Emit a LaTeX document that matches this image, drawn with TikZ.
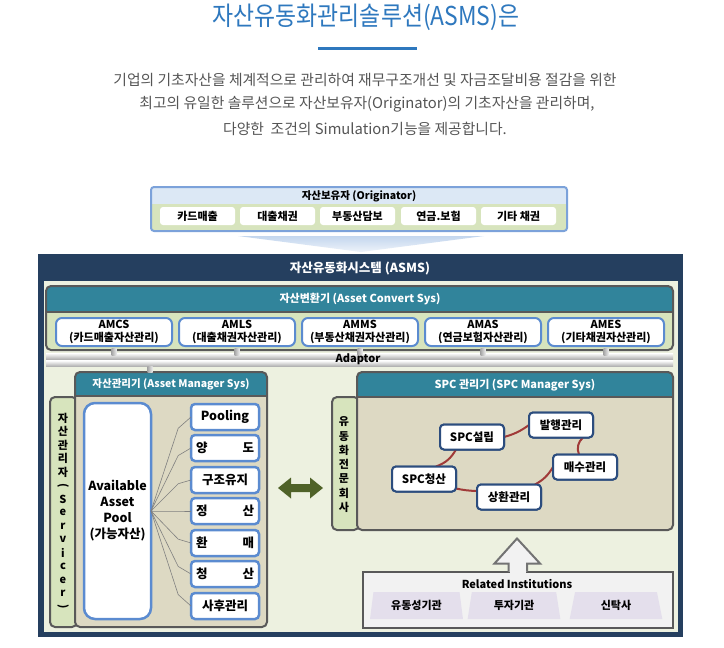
\documentclass[tikz,border=0pt]{standalone}
\usepackage{fontspec}
\setmainfont{Noto Sans CJK KR}
\newfontfamily\titlefont[FakeStretch=0.88]{Noto Sans CJK KR}
\usetikzlibrary{shapes.geometric,calc}
\definecolor{navy}{HTML}{253F5F}
\definecolor{innerbg}{HTML}{EDF1E0}
\definecolor{tealh}{HTML}{31849B}
\definecolor{tanbg}{HTML}{DDD9C3}
\definecolor{lgreen}{HTML}{D7E4BD}
\definecolor{bblue}{HTML}{5B8BD0}
\definecolor{dgray}{HTML}{595959}
\definecolor{titleblue}{HTML}{2E78BE}
\definecolor{spcblue}{HTML}{2C4D7E}
\definecolor{redline}{HTML}{A03A38}
\definecolor{arrowgreen}{HTML}{4F6228}
\definecolor{lav}{HTML}{E4DFEC}
\definecolor{lblue}{HTML}{DCE8F5}
\definecolor{paragray}{HTML}{555555}
\definecolor{litegray}{HTML}{F2F2F2}
\definecolor{funtop}{HTML}{C3D6EE}
\definecolor{funbot}{HTML}{EEF3FA}
\tikzset{
  every node/.style={inner sep=0pt,outer sep=0pt},
  origbox/.style={fill=white,rounded corners=3pt,minimum width=75pt,minimum height=18pt,font=\bfseries\fontsize{11}{13}\selectfont},
  convbox/.style={draw=bblue,line width=2pt,fill=white,rounded corners=6pt,minimum width=116pt,minimum height=28pt,align=center,font=\bfseries\fontsize{11}{12.5}\selectfont},
  listbox/.style={draw=bblue,line width=2.5pt,fill=white,rounded corners=4pt,minimum width=68pt,minimum height=26pt,font=\bfseries\fontsize{12.5}{14}\selectfont},
  poolbox/.style={draw=bblue,line width=2.5pt,fill=white,rounded corners=11pt,minimum width=67pt,minimum height=216pt,align=center,font=\bfseries\fontsize{12.5}{16}\selectfont},
  spcnode/.style={draw=spcblue,line width=2pt,fill=white,rounded corners=4pt,minimum width=64pt,minimum height=25pt,font=\bfseries\fontsize{11.5}{13}\selectfont},
  spcline/.style={draw=redline,line width=2pt},
  fanline/.style={draw=gray,line width=0.6pt},
  hdrtext/.style={text=white,font=\bfseries\fontsize{11}{13}\selectfont},
  vchar/.style={font=\bfseries\fontsize{11}{13}\selectfont},
  trapbox/.style={trapezium,trapezium stretches=true,trapezium left angle=79,trapezium right angle=79,fill=lav,minimum width=93pt,minimum height=27pt,font=\bfseries\fontsize{11}{13}\selectfont},
  paratext/.style={text=paragray,font=\fontsize{14.8}{17}\selectfont},
  panelborder/.style={draw=dgray,line width=2pt,rounded corners=5pt},
  stubfill/.style={left color=gray!70,right color=gray!15}
}
\begin{document}
\begin{tikzpicture}[x=1pt,y=-1pt]
\useasboundingbox (0,0) rectangle (724,648);
\fill[white] (0,0) rectangle (724,648);

% ---- title and intro
\node[text=titleblue,font=\titlefont\fontsize{26}{28}\selectfont] (title) at (366,17) {자산유동화관리솔루션(ASMS)은};
\draw[titleblue,line width=3pt] (318,48) -- (417,48);
\node[paratext] (p1) at (365,80) {기업의 기초자산을 체계적으로 관리하여 재무구조개선 및 자금조달비용 절감을 위한};
\node[paratext] (p2) at (367,104) {최고의 유일한 솔루션으로 자산보유자(Originator)의 기초자산을 관리하며,};
\node[paratext] (p3) at (365,129) {다양한\ \ 조건의 Simulation기능을 제공합니다.};

% ---- Originator
\fill[lgreen,rounded corners=3pt] (151,187) rectangle (567,231);
\fill[lblue] (152,188) rectangle (566,204);
\draw[bblue!80,line width=2pt,rounded corners=3pt] (151,187) rectangle (567,231);
\node[font=\bfseries\fontsize{10.5}{12}\selectfont] (origt) at (359,196) {자산보유자 (Originator)};
\node[origbox] (o1) at (197.5,216) {카드매출};
\node[origbox] (o2) at (277.5,216) {대출채권};
\node[origbox] (o3) at (357.5,216) {부동산담보};
\node[origbox] (o4) at (438.5,216) {연금.보험};
\node[origbox] (o5) at (518.5,216) {기타 채권};
\shade[top color=funtop,bottom color=funbot] (238,236) -- (484,236) -- (361,252) -- cycle;

% ---- ASMS frame
\fill[navy] (38,254) rectangle (683,637);
\fill[innerbg] (44,281) rectangle (678,632);
\node[hdrtext,font=\bfseries\fontsize{12.5}{14}\selectfont] (asmst) at (360,268) {자산유동화시스템 (ASMS)};

% ---- Asset Convert Sys
\begin{scope}
\clip[rounded corners=5pt] (46,286) rectangle (673,350);
\fill[lgreen] (46,286) rectangle (673,350);
\fill[tealh] (46,286) rectangle (673,312);
\end{scope}
\draw[panelborder] (46,286) rectangle (673,350);
\draw[dgray,line width=1.5pt] (46,312) -- (673,312);
\node[hdrtext] (convt) at (360,299) {자산변환기 (Asset Convert Sys)};
\node[convbox] (c1) at (114,332) {AMCS\\(카드매출자산관리)};
\node[convbox] (c2) at (237,332) {AMLS\\(대출채권자산관리)};
\node[convbox] (c3) at (360,332) {AMMS\\(부동산채권자산관리)};
\node[convbox] (c4) at (483,332) {AMAS\\(연금보험자산관리)};
\node[convbox] (c5) at (606,332) {AMES\\(기타채권자산관리)};

% ---- Adaptor
\shade[top color=white,bottom color=gray!65] (46,353) rectangle (673,359.5);
\shade[top color=white,bottom color=gray!65] (46,360.5) rectangle (673,366.5);
\foreach \n in {c1,c2,c3,c4,c5}{
  \shade[stubfill] ($(\n.south)+(-2.5,2)$) rectangle ($(\n.south)+(2.5,9)$);
}
\node[font=\bfseries\fontsize{11}{13}\selectfont] (adapt) at (358,359) {Adaptor};

% ---- Servicer + Asset Manager
\draw[panelborder,fill=lgreen] (50,397) rectangle (77,627);
\begin{scope}
\clip[rounded corners=5pt] (75,372) rectangle (267,627);
\fill[tanbg] (75,372) rectangle (267,627);
\fill[tealh] (75,372) rectangle (267,396);
\end{scope}
\draw[panelborder] (75,372) rectangle (267,627);
\draw[dgray,line width=1.5pt] (75,396) -- (267,396);
\node[hdrtext,font=\bfseries\fontsize{10.5}{12}\selectfont] (amt) at (171,384) {자산관리기 (Asset Manager Sys)};
\coordinate (amtop) at (150,372);
\shade[stubfill] ($(amtop)+(-2.5,-6)$) rectangle ($(amtop)+(2.5,0)$);

\foreach \c [count=\i from 0] in {자,산,관,리,자}{
  \node[vchar] (sv\i) at (63,418+13.5*\i) {\c};
}
\node[vchar,rotate=-90] (svl) at (63,486) {(};
\foreach \c [count=\i from 0] in {S,e,r,v,i,c,e,r}{
  \node[vchar] (sl\i) at (63,499+13.5*\i) {\c};
}
\node[vchar,rotate=-90] (svr) at (63,607) {)};

\node[poolbox] (pool) at (117.5,511) {Available\\Asset\\Pool\\(가능자산)};
\foreach \t/\yy [count=\i] in {Pooling/417,{\makebox[58pt]{양\hfill 도}}/448,구조유지/480,{\makebox[58pt]{정\hfill 산}}/511,{\makebox[58pt]{환\hfill 매}}/543,{\makebox[58pt]{청\hfill 산}}/574,사후관리/606}{
  \node[listbox] (l\i) at (225,\yy) {\t};
  \draw[fanline] (pool.east) -- ($(l\i.west)!0.12!(pool.east)+(-8,0)$) -- (l\i.west);
}

% ---- double arrow
\coordinate (dl) at (278,488);
\coordinate (dr) at (323,488);
\fill[arrowgreen] (dl) -- ($(dl)+(13,-10.5)$) -- ($(dl)+(13,-4)$) -- ($(dr)+(-13,-4)$) -- ($(dr)+(-13,-10.5)$) -- (dr)
  -- ($(dr)+(-13,10.5)$) -- ($(dr)+(-13,4)$) -- ($(dl)+(13,4)$) -- ($(dl)+(13,10.5)$) -- cycle;

% ---- SPC Manager
\draw[panelborder,fill=lgreen] (332,397) rectangle (359,530);
\begin{scope}
\clip[rounded corners=5pt] (357,372) rectangle (673,530);
\fill[tanbg] (357,372) rectangle (673,530);
\fill[tealh] (357,372) rectangle (673,397);
\end{scope}
\draw[panelborder] (357,372) rectangle (673,530);
\draw[dgray,line width=1.5pt] (357,397) -- (673,397);
\node[hdrtext] (spct) at (515,385) {SPC 관리기 (SPC Manager Sys)};
\foreach \c [count=\i from 0] in {유,동,화,전,문,회,사}{
  \node[vchar] (sp\i) at (344,422+14.2*\i) {\c};
}

\coordinate (p1) at (472,437);
\coordinate (p2) at (561,425);
\coordinate (p3) at (585,467);
\coordinate (p4) at (509,497);
\coordinate (p5) at (424,479);
\path (p1) node[spcnode] (n1) {SPC설립} (p2) node[spcnode] (n2) {발행관리}
  (p3) node[spcnode] (n3) {매수관리} (p4) node[spcnode] (n4) {상환관리} (p5) node[spcnode] (n5) {SPC청산};
\draw[spcline] (n1.east) to[bend right=10] (n2.west);
\draw[spcline] ($(n2.south)+(22,0)$) to[bend right=35] ($(n3.north)+(-6,0)$);
\draw[spcline] (n3.west) to[bend left=15] ($(n4.north east)+(-6,0)$);
\draw[spcline] ($(n4.west)+(0,-6)$) to[bend left=5] ($(n5.south east)+(0,-3)$);
\draw[spcline] ($(n5.north)+(12,0)$) to[bend right=20] ($(n1.south west)+(16,0)$);
% redraw boxes above the lines
\node[spcnode] at (p1) {SPC설립};
\node[spcnode] at (p2) {발행관리};
\node[spcnode] at (p3) {매수관리};
\node[spcnode] at (p4) {상환관리};
\node[spcnode] at (p5) {SPC청산};

% ---- Related institutions
\node[draw=dgray,fill=litegray,line width=2pt,minimum width=310pt,minimum height=56pt] (rel) at (518,599.5) {};
\node[font=\bfseries\fontsize{11}{13}\selectfont] (relt) at (517,584) {Related Institutions};
\node[trapbox] (t1) at (416.5,605.5) {유동성기관};
\node[trapbox] (t2) at (514,605.5) {투자기관};
\node[trapbox] (t3) at (616,605.5) {신탁사};
\filldraw[fill=litegray,draw=gray!90!black,line width=2pt,line join=miter]
  ($(rel.north)+(-9.5,0)$) -- ($(rel.north)+(-9.5,-8)$) -- ($(rel.north)+(-23.5,-8)$) -- ($(rel.north)+(-1,-33)$)
  -- ($(rel.north)+(22,-8)$) -- ($(rel.north)+(9,-8)$) -- ($(rel.north)+(9,0)$);
\fill[litegray] ($(rel.north)+(-8.5,-1)$) rectangle ($(rel.north)+(8,1.2)$);
\end{tikzpicture}
\end{document}
